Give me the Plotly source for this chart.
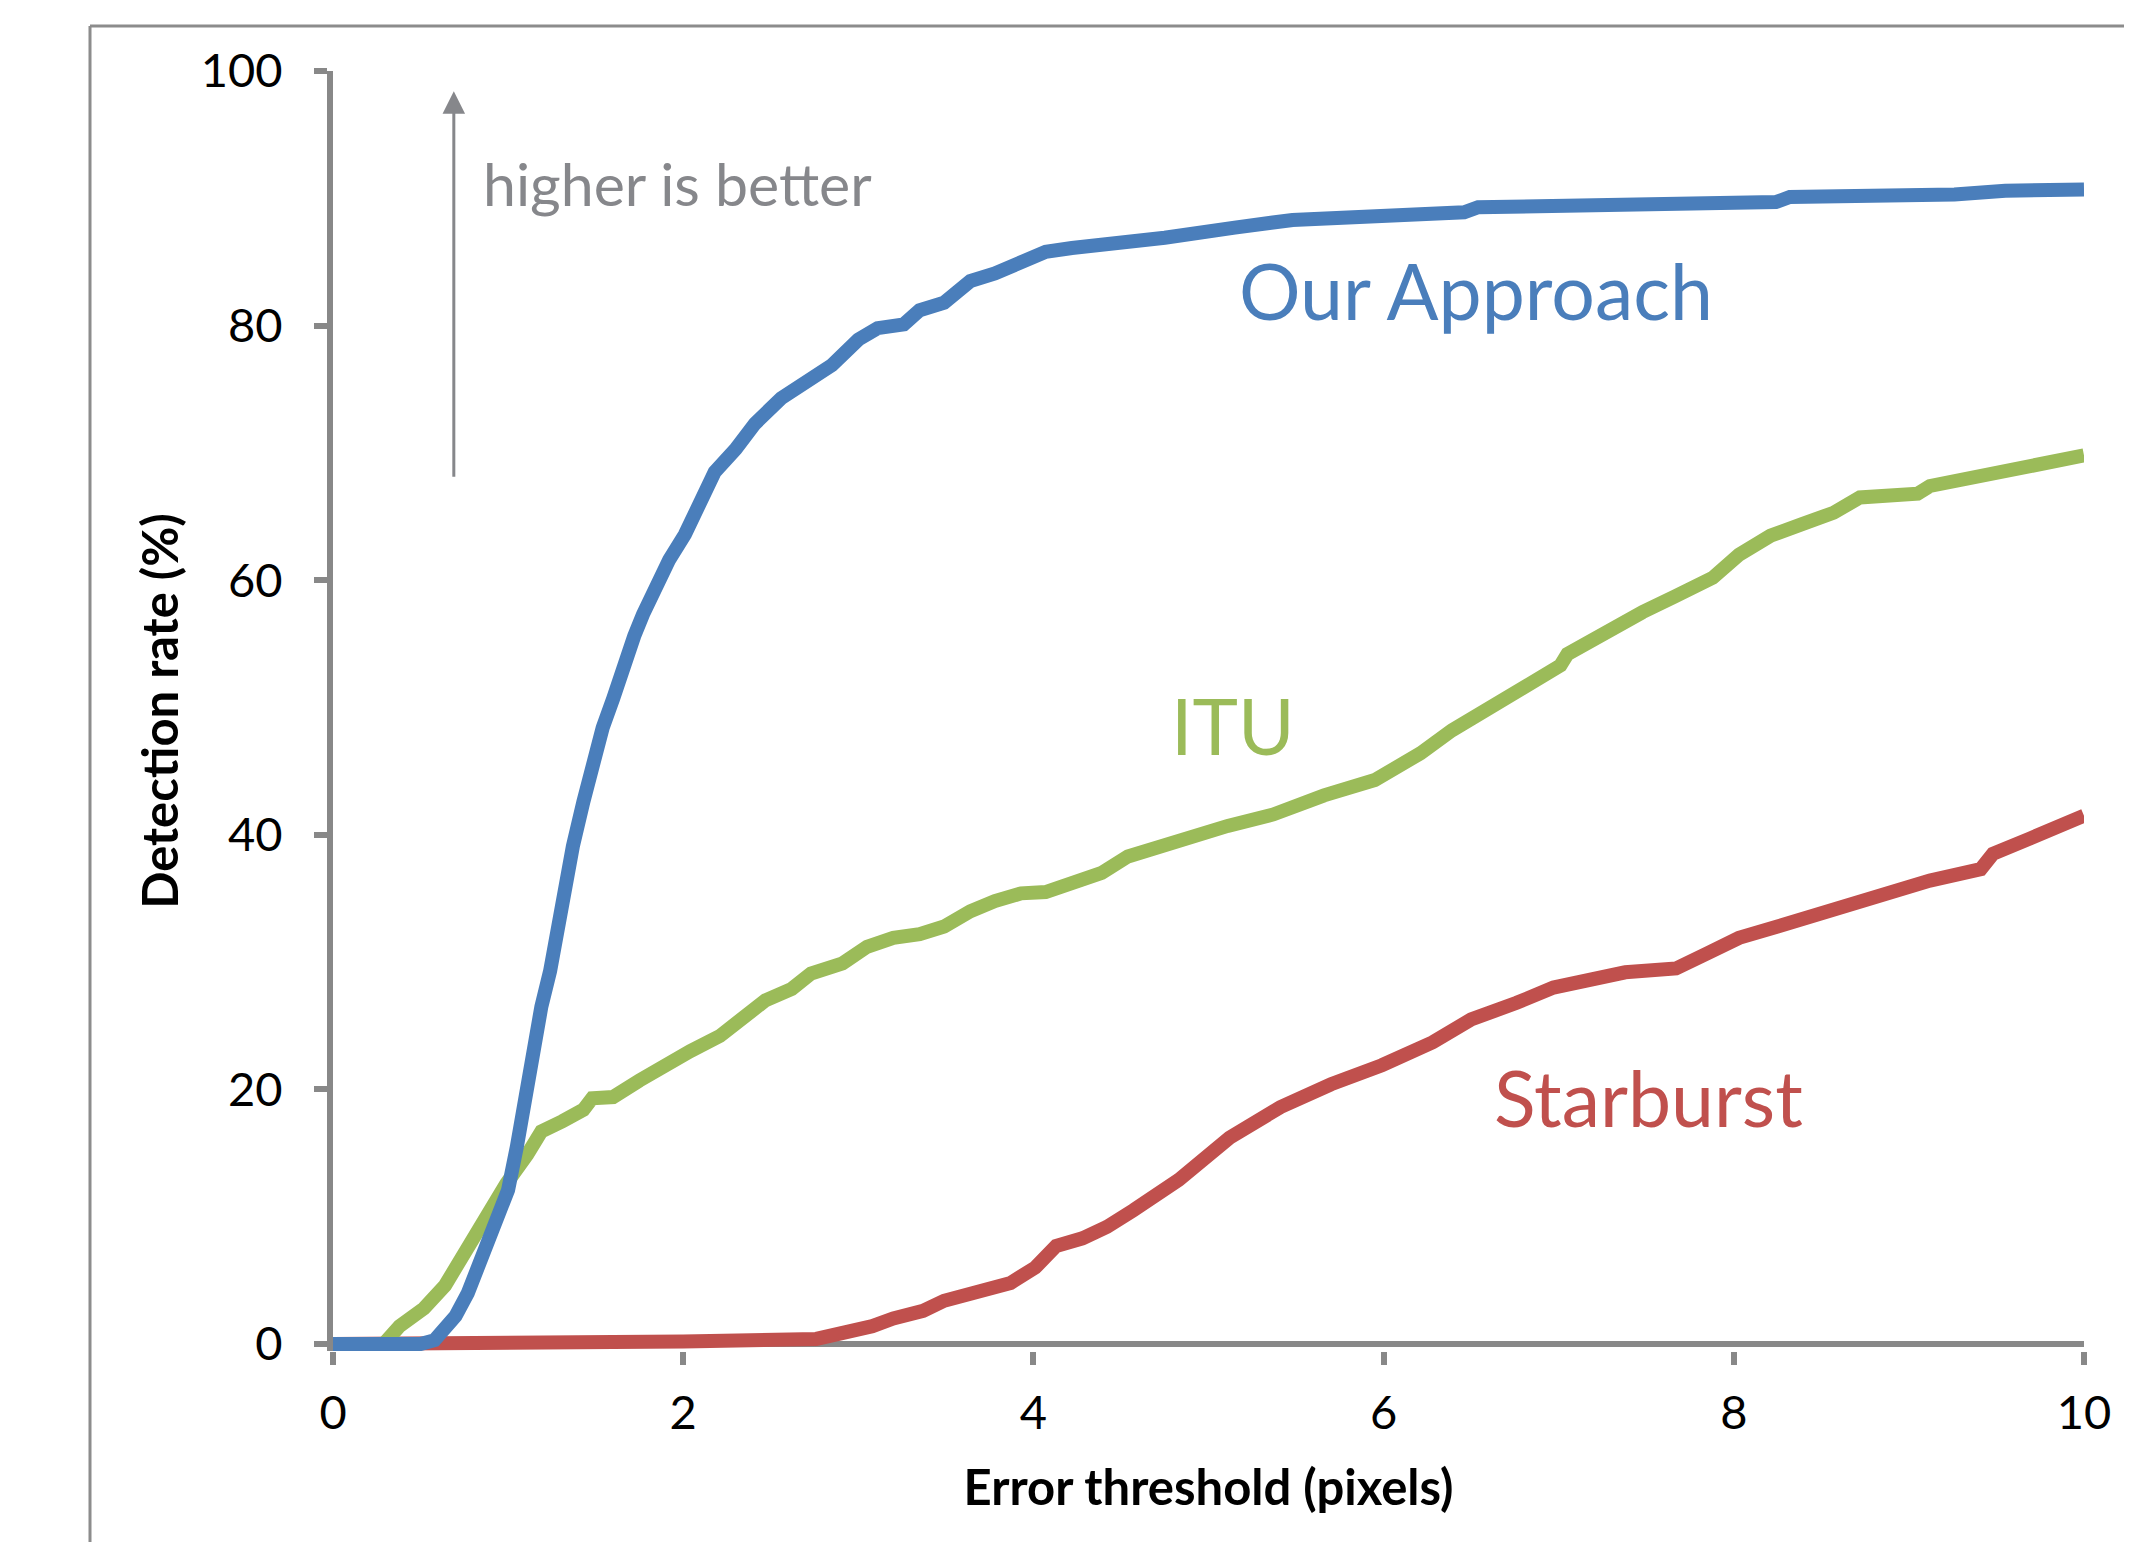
import plotly.graph_objects as go

# ---------------- data ----------------
ours_x = [0, 0.50, 0.58, 0.70, 0.77, 0.84, 0.93, 1.00, 1.05, 1.09, 1.13, 1.19, 1.24, 1.28,
          1.32, 1.37, 1.43, 1.48, 1.54, 1.60, 1.66, 1.72, 1.77, 1.83, 1.92, 2.01, 2.09, 2.18,
          2.30, 2.41, 2.56, 2.71, 2.85, 3.00, 3.11, 3.26, 3.35, 3.49, 3.64, 3.78, 3.93, 4.07,
          4.22, 4.39, 4.56, 4.75, 5.15, 5.48, 6.46, 6.54, 8.24, 8.32, 9.26, 9.55, 10.0]
ours_y = [0, 0, 0.3, 2.2, 4.0, 6.3, 9.2, 12.1, 15.5, 19.0, 23.0, 26.5, 29.3, 32.8,
          36.3, 39.1, 42.6, 45.5, 48.4, 50.7, 53.5, 55.6, 57.3, 59.3, 61.6, 63.6, 65.7, 68.5,
          70.3, 72.3, 74.3, 75.7, 76.9, 78.9, 79.8, 80.1, 81.2, 81.8, 83.5, 84.1, 85.0, 85.8,
          86.1, 86.3, 86.6, 86.9, 87.7, 88.3, 88.9, 89.3, 89.7, 90.1, 90.3, 90.6, 90.7]

itu_x = [0, 0.29, 0.38, 0.52, 0.64, 0.76, 0.87, 0.99, 1.11, 1.19, 1.31, 1.43, 1.48, 1.60,
         1.75, 1.89, 2.04, 2.21, 2.33, 2.47, 2.62, 2.73, 2.91, 3.05, 3.20, 3.35, 3.49, 3.64,
         3.78, 3.93, 4.07, 4.22, 4.39, 4.54, 4.86, 5.11, 5.37, 5.66, 5.95, 6.21, 6.39, 6.57,
         6.79, 7.01, 7.05, 7.30, 7.48, 7.66, 7.88, 8.03, 8.21, 8.39, 8.57, 8.72, 9.05, 9.12,
         9.48, 9.78, 10.0]
itu_y = [0, 0, 1.4, 2.8, 4.6, 7.4, 10.3, 12.6, 14.9, 16.7, 17.5, 18.4, 19.3, 19.4,
         20.7, 21.9, 23.0, 24.2, 25.6, 27.0, 27.9, 29.1, 29.9, 31.2, 31.9, 32.2, 32.8, 34.0,
         34.8, 35.4, 35.5, 36.3, 37.0, 38.3, 39.8, 40.7, 41.6, 43.1, 44.3, 46.4, 48.2, 49.7,
         51.5, 53.3, 54.2, 56.3, 57.5, 58.7, 60.2, 62.0, 63.5, 64.4, 65.3, 66.5, 66.8, 67.4,
         68.3, 69.2, 69.8]

star_x = [0, 0.40, 2.00, 2.76, 2.91, 3.08, 3.20, 3.37, 3.49, 3.66, 3.87, 4.01, 4.13, 4.28,
          4.42, 4.57, 4.83, 5.12, 5.41, 5.70, 5.99, 6.28, 6.50, 6.76, 6.97, 7.38, 7.67, 7.85,
          8.03, 8.25, 8.46, 8.68, 8.90, 9.12, 9.41, 9.48, 9.69, 9.88, 10.0]
star_y = [0, 0, 0.2, 0.4, 0.8, 1.4, 2.0, 2.6, 3.4, 4.0, 4.8, 6.0, 7.7, 8.3,
          9.2, 10.5, 12.9, 16.2, 18.6, 20.4, 21.9, 23.7, 25.5, 26.8, 28.0, 29.2, 29.5, 30.7,
          31.9, 32.8, 33.7, 34.6, 35.5, 36.4, 37.3, 38.5, 39.7, 40.9, 41.5]

x_ticks = [0, 2, 4, 6, 8, 10]
y_ticks = [0, 20, 40, 60, 80, 100]

BLUE = "#4A7EBB"
GREEN = "#9BBB59"
RED = "#C0504D"
AXIS = "#888888"
NOTE = "#86878B"
FONT = "Lato"

# the page body has an 8px default margin, so the figure is 8px smaller
W, H = 2124, 1534
ML, MR, MT, MB = 325, 48, 63, 191
PW, PH = W - ML - MR, H - MT - MB


def px_to_paper_x(px):
    return (px - ML) / PW


def px_to_paper_y(py):
    return (H - MB - py) / PH


fig = go.Figure()
for xs, ys, col in [(star_x, star_y, RED), (itu_x, itu_y, GREEN), (ours_x, ours_y, BLUE)]:
    fig.add_trace(go.Scatter(x=xs, y=ys, mode="lines",
                             line=dict(color=col, width=14), showlegend=False,
                             hoverinfo="skip"))

tick_common = dict(ticks="outside", ticklen=13, tickwidth=6, tickcolor=AXIS,
                   showgrid=False, tickfont=dict(family=FONT, size=47, color="black"))

# x axis: its line is the y=0 zero line (drawn beneath the curves)
fig.update_xaxes(range=[0, 10], tickvals=x_ticks, ticklabelstandoff=8,
                 showline=False, zeroline=False,
                 title=dict(text="Error threshold (pixels)",
                            font=dict(family=FONT, size=49, color="black", weight="bold"),
                            standoff=32),
                 **tick_common)
fig.update_yaxes(range=[-0.55, 100], tickvals=y_ticks, ticklabelstandoff=22,
                 showline=True, linecolor=AXIS, linewidth=6,
                 zeroline=True, zerolinecolor=AXIS, zerolinewidth=6,
                 title=dict(text="Detection rate (%)",
                            font=dict(family=FONT, size=49, color="black", weight="bold"),
                            standoff=9),
                 **tick_common)

# slide frame (top and left border)
fl = px_to_paper_x(82)
ft = px_to_paper_y(18)
fig.add_shape(type="line", xref="paper", yref="paper", x0=fl, x1=px_to_paper_x(W + 10),
              y0=ft, y1=ft, line=dict(color="#8C8C8C", width=3))
fig.add_shape(type="line", xref="paper", yref="paper", x0=fl, x1=fl,
              y0=ft, y1=px_to_paper_y(H + 10), line=dict(color="#8C8C8C", width=3))

# arrow "higher is better"
fig.add_annotation(x=0.69, y=98.4, ax=0.69, ay=68.0, xref="x", yref="y",
                   axref="x", ayref="y", text="", showarrow=True,
                   arrowhead=2, arrowsize=1.5, arrowwidth=3, arrowcolor=NOTE,
                   standoff=0, startstandoff=0)
fig.add_annotation(x=1.97, y=91.2, xref="x", yref="y", text="higher is better",
                   showarrow=False, xanchor="center", yanchor="middle",
                   font=dict(family=FONT, size=59, color=NOTE))

# series labels
for txt, xv, yv, col in [("Our Approach", 6.53, 82.8, BLUE),
                         ("ITU", 5.14, 48.6, GREEN),
                         ("Starburst", 7.51, 19.4, RED)]:
    fig.add_annotation(x=xv, y=yv, xref="x", yref="y", text=txt, showarrow=False,
                       xanchor="center", yanchor="middle",
                       font=dict(family=FONT, size=77, color=col))

fig.update_layout(width=W, height=H, margin=dict(l=ML, r=MR, t=MT, b=MB),
                  plot_bgcolor="white", paper_bgcolor="white",
                  font=dict(family=FONT))

fig.write_html("out.html")
